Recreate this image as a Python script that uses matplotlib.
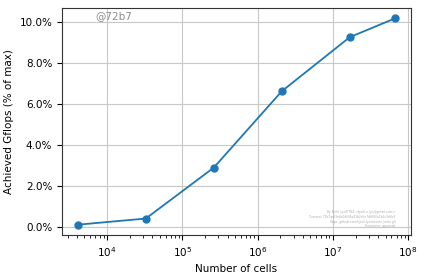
import matplotlib
matplotlib.use("Agg")
import matplotlib.pyplot as plt
from matplotlib.ticker import PercentFormatter

cells = [4096, 32768, 262144, 2097152, 16777216, 67108864]
achieved_pct = [0.10, 0.40, 2.89, 6.62, 9.26, 10.18]
xlabel = "Number of cells"
ylabel = "Achieved Gflops (% of max)"
watermark = "@72b7"
footer = ["By Kjetil Lye(ETHZ <kjetil.o.lye@gmail.com>",
          "Commit: 72b7aef3e8c0d5f4a91b2c6e7d8f90a1b2c3d4e5",
          "Repo: github.com/kjetil-lye/alsvinn_tests.git",
          "Hostname: gpunode"]

plt.rcParams['font.size'] = 7.5
fig = plt.figure(figsize=(4.24, 2.74), dpi=100)
ax = fig.add_axes([62/424, 1-235/274, (411-62)/424, (235-8)/274])
ax.plot(cells, achieved_pct, '-o', color='#1f77b4', lw=1.3, ms=5)
ax.set_xscale('log')
ax.yaxis.set_major_formatter(PercentFormatter(xmax=100, decimals=1))
ax.grid(True, color='#c8c8c8', lw=0.8)
ax.set_xlabel(xlabel)
ax.set_ylabel(ylabel)
for s in ax.spines.values():
    s.set_color('#333333')
ax.text(0.095, 0.985, watermark, transform=ax.transAxes, color='gray',
        fontsize=7.5, ha='left', va='top', alpha=0.9)
ax.text(0.955, 0.03, "\n".join(footer), transform=ax.transAxes, color='#aaaaaa',
        fontsize=2.2, ha='right', va='bottom', multialignment='right')
fig.savefig("out.png", dpi=100)
